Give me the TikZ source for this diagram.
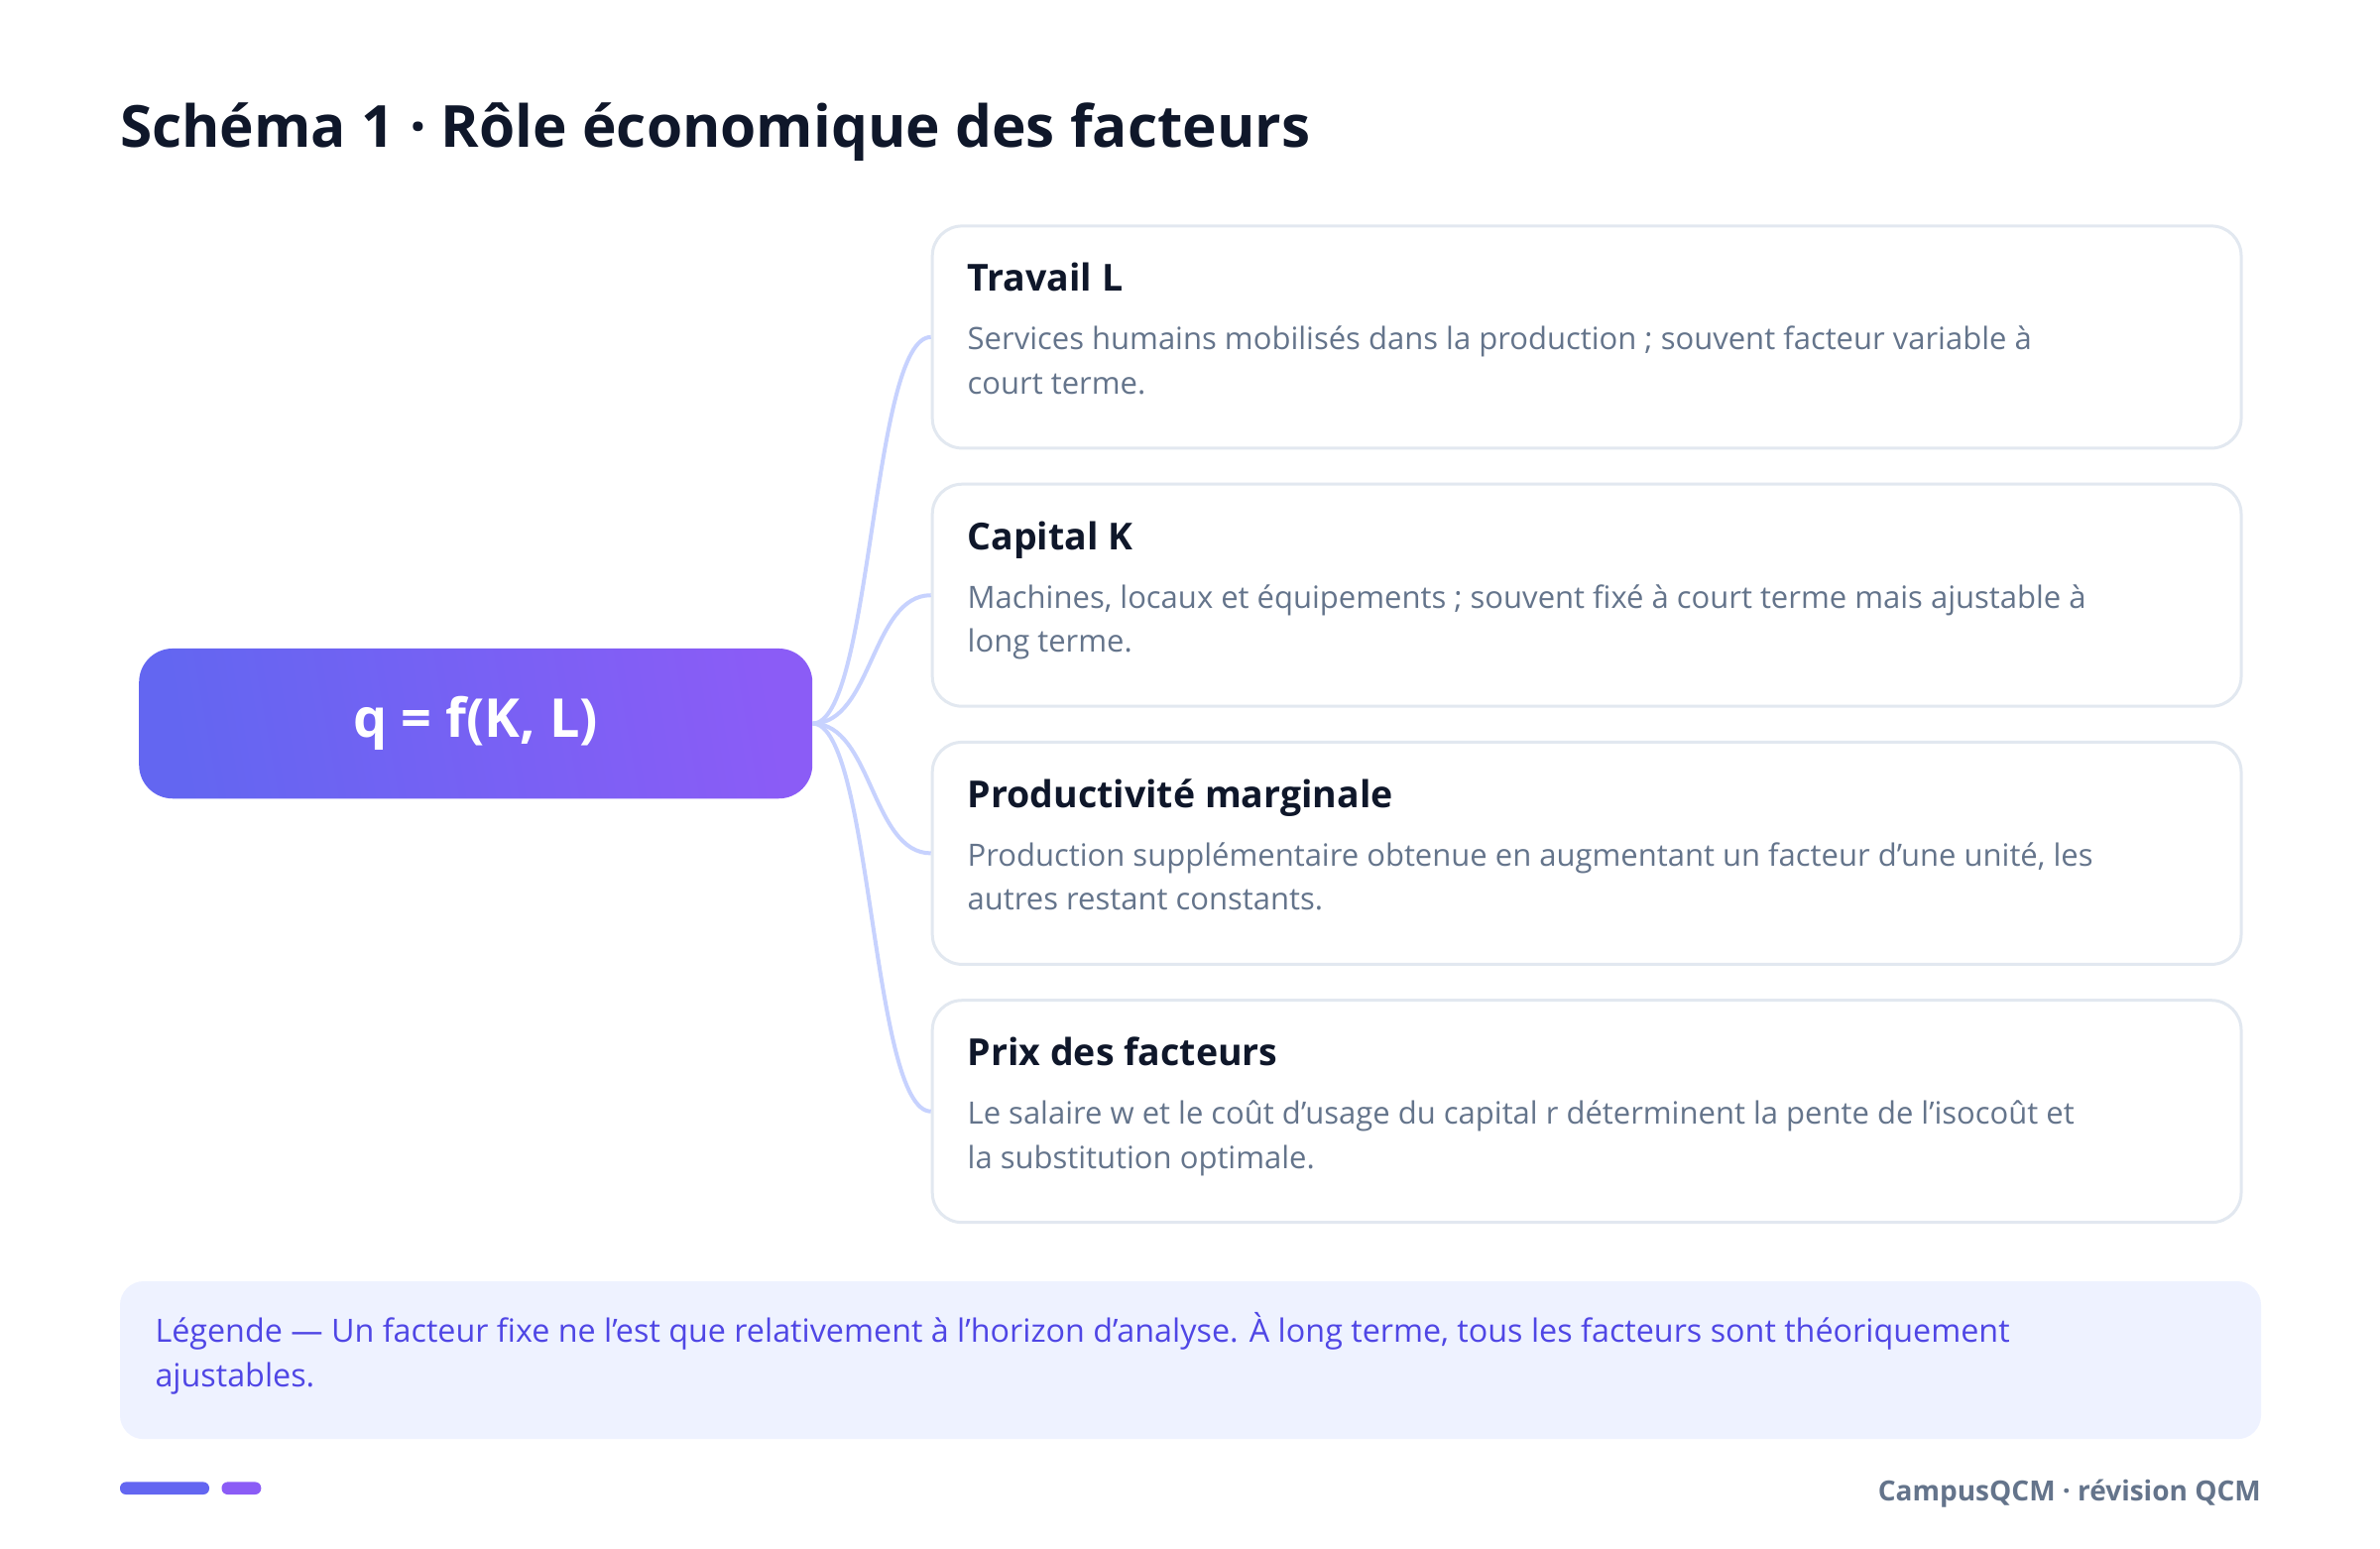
\documentclass[tikz,border=0pt]{standalone}
\usepackage{fontspec}
\setmainfont{Open Sans}
\usepackage{tikz}
\usetikzlibrary{calc}

\definecolor{ink}{HTML}{0F172A}
\definecolor{slate}{HTML}{64748B}
\definecolor{cardline}{HTML}{E2E8F0}
\definecolor{linkcol}{HTML}{C7D2FE}
\definecolor{indigo}{HTML}{6366F1}
\definecolor{violet}{HTML}{8B5CF6}
\definecolor{legendbg}{HTML}{EEF2FF}
\definecolor{legendtxt}{HTML}{4F46E5}

\begin{document}
\begin{tikzpicture}[x=1pt, y=-1pt,
    card/.style={draw=cardline, line width=3pt, rounded corners=30pt, fill=white,
        minimum width=1319.8pt, minimum height=224pt, inner sep=0pt},
    cardtitle/.style={anchor=base west, inner sep=0pt, text=ink,
        font=\fontsize{37.5}{44}\selectfont\bfseries},
    carddesc/.style={anchor=base west, inner sep=0pt, text=slate,
        font=\fontsize{31}{36}\selectfont},
    legendline/.style={anchor=base west, inner sep=0pt, text=legendtxt,
        font=\fontsize{32.3}{38}\selectfont},
    link/.style={draw=linkcol, line width=4pt},
    pill/.style={rounded corners=6pt}
]
    \useasboundingbox (0,0) rectangle (2400,1561);
    \fill[white] (0,0) rectangle (2400,1561);

    \node[anchor=base west, inner sep=0pt, text=ink, font=\fontsize{58.5}{64}\selectfont\bfseries]
        (titre) at (121,148.3) {Schéma 1 · Rôle économique des facteurs};

    % fonction de production
    \node[rounded corners=34pt, left color=indigo, right color=violet, shading angle=100,
        minimum width=679pt, minimum height=151.3pt, text=white,
        font=\fontsize{54}{60}\selectfont\bfseries] (q) at (479.7,729.6) {q = f(K, L)};

    % les quatre facteurs
    \node[card] (travail) at (1600.1,339.9) {};
    \node[card] (capital) at (1600.1,600.2) {};
    \node[card] (prodmarg) at (1600.1,860.4) {};
    \node[card] (prix) at (1600.1,1120.7) {};

    \node[cardtitle] at ($(travail.north west)+(36.8,67.5)$) {Travail L};
    \node[carddesc] at ($(travail.north west)+(36.8,126.5)$)
        {Services humains mobilisés dans la production ; souvent facteur variable à};
    \node[carddesc] at ($(travail.north west)+(36.8,171)$) {court terme.};
    \node[cardtitle] at ($(capital.north west)+(36.8,67.5)$) {Capital K};
    \node[carddesc] at ($(capital.north west)+(36.8,126.5)$)
        {Machines, locaux et équipements ; souvent fixé à court terme mais ajustable à};
    \node[carddesc] at ($(capital.north west)+(36.8,171)$) {long terme.};
    \node[cardtitle] at ($(prodmarg.north west)+(36.8,67.5)$) {Productivité marginale};
    \node[carddesc] at ($(prodmarg.north west)+(36.8,126.5)$)
        {Production supplémentaire obtenue en augmentant un facteur d'une unité, les};
    \node[carddesc] at ($(prodmarg.north west)+(36.8,171)$) {autres restant constants.};
    \node[cardtitle] at ($(prix.north west)+(36.8,67.5)$) {Prix des facteurs};
    \node[carddesc] at ($(prix.north west)+(36.8,126.5)$)
        {Le salaire w et le coût d'usage du capital r déterminent la pente de l'isocoût et};
    \node[carddesc] at ($(prix.north west)+(36.8,171)$) {la substitution optimale.};

    \foreach \f in {travail, capital, prodmarg, prix}
        \draw[link] (q.east) .. controls +(60,0) and +(-60,0) .. (\f.west);

    % légende
    \fill[legendbg, rounded corners=24pt] (121,1292) rectangle (2280,1451.2);
    \node[legendline] (legende) at (156.3,1353.5)
        {Légende — Un facteur fixe ne l'est que relativement à l'horizon d'analyse. À long terme, tous les facteurs sont théoriquement};
    \node[legendline] (legende2) at (156.3,1398) {ajustables.};

    % pied de page
    \fill[indigo, pill] (121,1494.4) rectangle (211,1507);
    \fill[violet, pill] (223.5,1494.4) rectangle (263.3,1507);
    \node[anchor=base east, inner sep=0pt, text=slate, font=\fontsize{28}{32}\selectfont\bfseries]
        (pied) at (2280,1513.3) {CampusQCM · révision QCM};
\end{tikzpicture}
\end{document}
